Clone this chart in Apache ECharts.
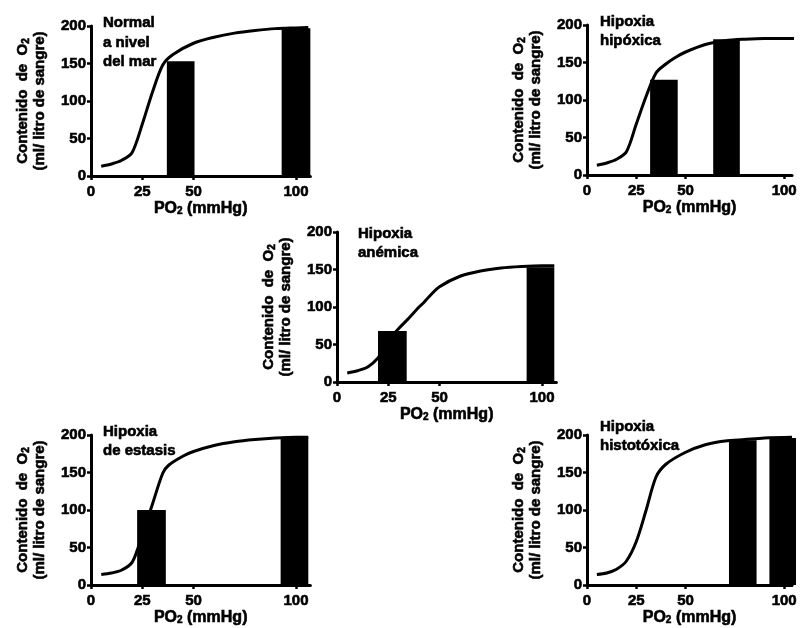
<!DOCTYPE html>
<html>
<head>
<meta charset="utf-8">
<script src="https://cdn.jsdelivr.net/npm/echarts@6/dist/echarts.min.js"></script>
<style>
  html, body { margin: 0; padding: 0; background: #fff; }
  #layout { width: 800px; height: 628px; }
</style>
</head>
<body>
<div id="layout"></div>
<script>
// datos: PO2 (mmHg) y contenido de O2 (ml/litro)
let po2Normal = [5, 10, 15, 20, 25, 30, 35, 40, 50, 60, 70, 80, 90, 100, 106];
let o2Normal = [13, 16, 21, 31, 69, 112, 148, 162, 177, 185, 190.5, 194, 196.5, 197.5, 198];
let barsNormal = [[37, 50.5, 153], [93, 107, 197]];

let po2Hipoxica = [5, 10, 15, 20, 25, 30, 35, 40, 45, 50, 60, 70, 80, 90, 105];
let o2Hipoxica = [13, 16, 21, 31, 68, 105, 136, 148, 157, 164, 174, 179, 181, 182, 182];
let barsHipoxica = [[32, 46, 127], [64, 77.5, 181]];

let po2Anemica = [5, 10, 15, 20, 22, 25, 30, 35, 40, 42, 45, 50, 60, 70, 80, 90, 100, 106];
let o2Anemica = [12, 15, 20, 32, 42, 55, 71, 85, 100, 105, 114, 127, 141, 148, 152, 154, 155, 155];
let barsAnemica = [[20, 34, 68], [92.5, 106, 153]];

let po2Estasis = [5, 10, 15, 20, 23, 26, 30, 35, 38, 45, 50, 60, 70, 80, 90, 100, 106];
let o2Estasis = [14, 16, 20, 30, 50, 75, 108, 149, 160, 172, 178, 186, 191, 194, 196, 197, 197];
let barsEstasis = [[22.5, 36.5, 100], [92.5, 106, 197]];

let po2Histotoxica = [5, 10, 15, 20, 25, 30, 35, 40, 50, 60, 70, 80, 90, 104];
let o2Histotoxica = [14, 16, 21, 32, 58, 100, 144, 161, 177, 187, 192, 194, 196, 197];
let barsHistotoxica = [[72, 86, 193], [92.5, 106, 196]];

let xTicks = [0, 25, 50, 100];
let titulos = ['Normal\na nivel\ndel mar', 'Hipoxia\nhipóxica', 'Hipoxia\nanémica', 'Hipoxia\nde estasis', 'Hipoxia\nhistotóxica'];

let fuente = "'Liberation Sans', Arial, sans-serif";
// el original usa una negrita muy pesada: se engrosa con un borde del mismo color
let negrita = {fontWeight: 'bold', fontFamily: fuente, color: '#000', textBorderColor: '#000', textBorderWidth: 0.6};
let sub = Object.assign({fontSize: 10, verticalAlign: 'bottom'}, negrita);

let paneles = [
    {left: 91, top: 26, xmax: 107, po2: po2Normal, o2: o2Normal, bars: barsNormal, tl: 103, tt: 13.5},
    {left: 587, top: 25, xmax: 104, po2: po2Hipoxica, o2: o2Hipoxica, bars: barsHipoxica, tl: 600, tt: 12},
    {left: 337, top: 232, xmax: 107, po2: po2Anemica, o2: o2Anemica, bars: barsAnemica, tl: 358, tt: 224},
    {left: 91, top: 435, xmax: 107, po2: po2Estasis, o2: o2Estasis, bars: barsEstasis, tl: 103, tt: 422},
    {left: 587, top: 435, xmax: 104, po2: po2Histotoxica, o2: o2Histotoxica, bars: barsHistotoxica, tl: 600, tt: 417}
];

let myChart = echarts.init(document.getElementById('layout'));

let option = {
    animation: false,
    backgroundColor: '#fff',
    title: [],
    grid: [],
    xAxis: [],
    yAxis: [],
    series: []
};

paneles.forEach(function(p, i) {
    option.title.push({
        text: titulos[i], left: p.tl, top: p.tt, padding: 0,
        textStyle: Object.assign({fontSize: 15, lineHeight: 19.5}, negrita)
    });
    option.grid.push({left: p.left, top: p.top, width: p.xmax * 2.05, height: 150, containLabel: false});
    option.xAxis.push({
        gridIndex: i, type: 'value', min: 0, max: p.xmax,
        name: 'PO{sub|2} (mmHg)', nameLocation: 'middle', nameGap: 23,
        nameTextStyle: Object.assign({fontSize: 16, rich: {sub: sub}}, negrita),
        axisLine: {show: true, lineStyle: {color: '#000', width: 3}},
        axisTick: {show: true, length: 4, lineStyle: {color: '#000', width: 2.5}, customValues: xTicks},
        axisLabel: Object.assign({fontSize: 15, margin: 8, customValues: xTicks}, negrita),
        splitLine: {show: false}
    });
    option.yAxis.push({
        gridIndex: i, type: 'value', min: 0, max: 200, interval: 50,
        name: 'Contenido  de  O{sub|2}\n(ml/ litro de sangre)', nameLocation: 'middle', nameGap: 43, nameRotate: 90,
        nameTextStyle: Object.assign({fontSize: 15, lineHeight: 17, rich: {sub: sub}}, negrita),
        axisLine: {show: true, lineStyle: {color: '#000', width: 3}},
        axisTick: {show: true, length: 4, lineStyle: {color: '#000', width: 2.5}},
        axisLabel: Object.assign({fontSize: 15, margin: 5}, negrita),
        splitLine: {show: false}
    });
    option.series.push({
        type: 'custom', xAxisIndex: i, yAxisIndex: i,
        encode: {x: [0, 1], y: 2},
        data: p.bars,
        renderItem: function(params, api) {
            let a = api.coord([api.value(0), api.value(2)]);
            let b = api.coord([api.value(1), 0]);
            return {
                type: 'rect',
                shape: {x: a[0], y: a[1], width: b[0] - a[0], height: b[1] - a[1]},
                style: {fill: '#000'}
            };
        },
        z: 2
    });
    option.series.push({
        type: 'line', xAxisIndex: i, yAxisIndex: i,
        data: p.po2.map(function(x, k) { return [x, p.o2[k]]; }),
        smooth: 0.3, symbol: 'none',
        lineStyle: {color: '#000', width: 3},
        z: 3
    });
});

myChart.setOption(option);
</script>
</body>
</html>
